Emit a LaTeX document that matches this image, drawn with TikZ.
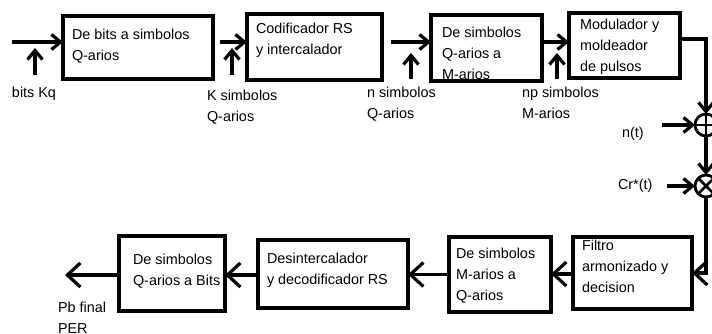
\documentclass[tikz,border=0pt]{standalone}
\usepackage{fontspec}
\setmainfont{Liberation Sans}
\usetikzlibrary{arrows.meta,calc}
\begin{document}
\begin{tikzpicture}[x=1pt,y=-1pt,
  blk/.style={draw, line width=3.2pt, inner sep=0pt, outer sep=0pt, rectangle},
  txt/.style={anchor=north west, inner sep=0pt, outer sep=0pt, align=left, font=\fontsize{14.4}{21}\selectfont},
  arr/.style={line width=3.2pt, -{Straight Barb[length=9pt,width=15pt]}},
  barr/.style={line width=3.2pt, -{Straight Barb[length=13pt,width=24pt]}},
  sumc/.style={draw, circle, line width=2.8pt, minimum size=22pt, inner sep=0pt, outer sep=0pt}
]
\useasboundingbox (0,0) rectangle (712,333);

% blocks
\node[blk, minimum width=150pt, minimum height=63pt] (b1) at (138,47.5) {};
\node[blk, minimum width=135pt, minimum height=66pt] (b2) at (314.5,47) {};
\node[blk, minimum width=111pt, minimum height=66pt] (b3) at (486.5,48) {};
\node[blk, minimum width=111pt, minimum height=65pt] (b4) at (624.5,45.5) {};
\node[blk, minimum width=119pt, minimum height=72pt] (bF) at (632.5,273) {};
\node[blk, minimum width=102pt, minimum height=75pt] (bM) at (500,274.5) {};
\node[blk, minimum width=150pt, minimum height=68pt] (bD) at (333,274) {};
\node[blk, minimum width=106pt, minimum height=75pt] (bQ) at (172,273.5) {};

% texts in blocks
\node[txt] (t1) at (72,29) {De bits a simbolos\\Q-arios};
\node[txt] (t2) at (256,23) {Codificador RS\\y intercalador};
\node[txt] (t3) at (442,27) {De simbolos\\Q-arios a\\M-arios};
\node[txt] (t4) at (580,19) {Modulador y\\moldeador\\de pulsos};
\node[txt] (tF) at (582,240) {Filtro\\armonizado y\\decision};
\node[txt] (tM) at (456,248) {De simbolos\\M-arios a\\Q-arios};
\node[txt] (tD) at (267,253) {Desintercalador\\y decodificador RS};
\node[txt] (tQ) at (133,254) {De simbolos\\Q-arios a Bits};

% labels
\node[txt] (lbits) at (12,87) {bits Kq};
\node[txt] (lK) at (207,90) {K simbolos\\Q-arios};
\node[txt] (ln) at (367,87) {n simbolos\\Q-arios};
\node[txt] (lnp) at (522,87) {np simbolos\\M-arios};
\node[txt] (lnt) at (622,127) {n(t)};
\node[txt] (lcr) at (618,179) {Cr*(t)};
\node[txt] (lpb) at (58,302) {Pb final\\PER};

% adder and multiplier
\node[sumc] (add) at (706,125) {};
\draw[line width=2.6pt] (add.north) -- (add.south) (add.west) -- (add.east);
\node[sumc] (mul) at (706,186) {};
\draw[line width=2.6pt] (mul.north west) -- (mul.south east) (mul.north east) -- (mul.south west);

% top row connectors
\coordinate (in) at (12,42);
\coordinate (a12) at (220,42);
\coordinate (a23) at (391,42);
\coordinate (a34) at (542,42);
\draw[arr] (in) -- (in -| b1.west);
\draw[arr] (a12) -- (a12 -| b2.west);
\draw[arr] (a23) -- (a23 -| b3.west);
\draw[arr] (a34) -- (a34 -| b4.west);

% upward label arrows
\coordinate (u1s) at (35,75);  \coordinate (u1e) at (35,48);
\coordinate (u2s) at (232,75); \coordinate (u2e) at (232,48);
\coordinate (u3s) at (411,79); \coordinate (u3e) at (411,53);
\coordinate (u4s) at (557,79); \coordinate (u4e) at (557,53);
\draw[arr] (u1s) -- (u1e);
\draw[arr] (u2s) -- (u2e);
\draw[arr] (u3s) -- (u3e);
\draw[arr] (u4s) -- (u4e);

% to channel
\draw[arr] ([yshift=6.5pt]b4.east) -| (add.north);
\coordinate (nts) at (662,125);
\coordinate (crs) at (667,186);
\draw[arr] (nts) -- (add.west);
\draw[arr] (crs) -- (mul.west);
\draw[arr] (add.south) -- (mul.north);
\draw[barr] (mul.south) |- (bF.east);

% bottom row connectors
\coordinate (out) at (65,275);
\draw[barr] ([yshift=-1pt]bF.west) -- ([yshift=-1pt]bF.west -| bM.east);
\draw[barr] (bM.west) -- (bM.west -| bD.east);
\draw[barr] ([yshift=-1pt]bD.west) -- ([yshift=-1pt]bD.west -| bQ.east);
\draw[barr] (bQ.west |- out) -- (out);
\end{tikzpicture}
\end{document}
